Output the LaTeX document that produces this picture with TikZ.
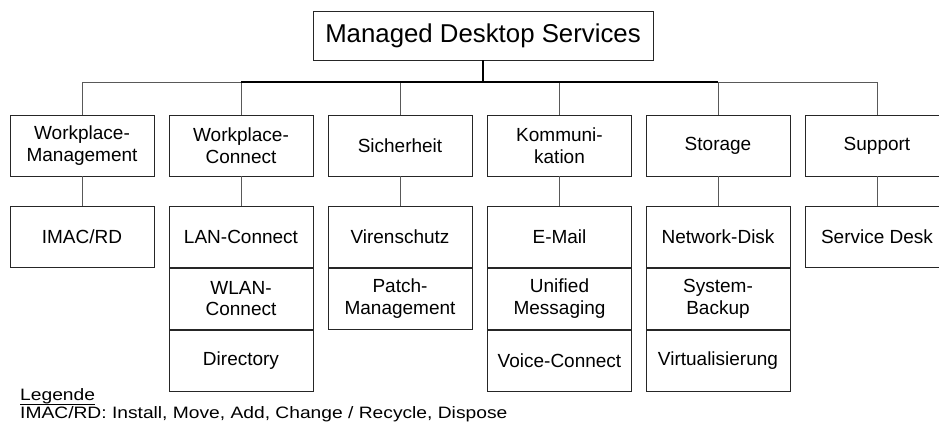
\documentclass[tikz,border=0pt]{standalone}
\usepackage{fontspec}
\setmainfont{Liberation Sans}
\begin{document}
\begin{tikzpicture}[x=1pt,y=-1pt,
  box/.style={draw=black!85, line width=0.8pt, minimum width=144pt, inner sep=0pt,
    align=center, font=\fontsize{19}{21.7}\selectfont},
  head/.style={box, minimum height=61pt},
  cell/.style={box, minimum height=61pt, anchor=north},
  conn/.style={draw=black!65, line width=0.9pt},
  mainconn/.style={draw=black, line width=1.5pt},
  legtext/.style={anchor=base west, inner sep=0pt, font=\fontsize{16.5}{18}\selectfont}
]
\clip (0,0) rectangle (939,428);
\useasboundingbox (0,0) rectangle (939,428);

% root
\node[box, minimum width=340pt, minimum height=49pt, font=\fontsize{25.8}{29}\selectfont]
  (root) at (483,35.5) {Managed Desktop Services};
\coordinate (bus) at (483,82);

% service areas
\node[head] (wm) at (82,145.5)  {Workplace-\\Management};
\node[head] (wc) at (241,145.5) {Workplace-\\Connect};
\node[head] (si) at (400,145.5) {Sicherheit};
\node[head] (ko) at (559.5,145.5) {Kommuni-\\kation};
\node[head] (st) at (718,145.5) {Storage};
\node[head] (su) at (877,145.5) {Support};

% services
\node[cell] (wm1) at (82,206) {IMAC/RD};

\node[cell] (wc1) at (241,206) {LAN-Connect};
\node[cell] (wc2) at (wc1.south) {WLAN-\\Connect};
\node[cell] (wc3) at (wc2.south) {Directory};

\node[cell] (si1) at (400,206) {Virenschutz};
\node[cell] (si2) at (si1.south) {Patch-\\Management};

\node[cell] (ko1) at (559.5,206) {E-Mail};
\node[cell] (ko2) at (ko1.south) {Unified\\Messaging};
\node[cell] (ko3) at (ko2.south) {Voice-Connect};

\node[cell] (st1) at (718,206) {Network-Disk};
\node[cell] (st2) at (st1.south) {System-\\Backup};
\node[cell] (st3) at (st2.south) {Virtualisierung};

\node[cell] (su1) at (877,206) {Service Desk};

% bus and connectors
\draw[conn] (wm.north |- bus) -- (su.north |- bus);
\foreach \n in {wm,wc,si,ko,st,su}
  \draw[conn] (\n.north) -- (\n.north |- bus);
\draw[mainconn] (wc.north |- bus) -- (st.north |- bus);
\draw[mainconn] (root.south) -- (bus);

\draw[conn] (wm.south) -- (wm1.north);
\draw[conn] (wc.south) -- (wc1.north);
\draw[conn] (si.south) -- (si1.north);
\draw[conn] (ko.south) -- (ko1.north);
\draw[conn] (st.south) -- (st1.north);
\draw[conn] (su.south) -- (su1.north);

% legend
\node[legtext] (leg) at (20,400.7) {\scalebox{1.165}[1]{Legende}};
\draw[line width=0.8pt] ([yshift=-4pt]leg.base west) -- ([yshift=-4pt]leg.base east);
\node[legtext] (legtxt) at (20,418.3)
  {\scalebox{1.165}[1]{IMAC/RD: Install, Move, Add, Change / Recycle, Dispose}};
\end{tikzpicture}
\end{document}
